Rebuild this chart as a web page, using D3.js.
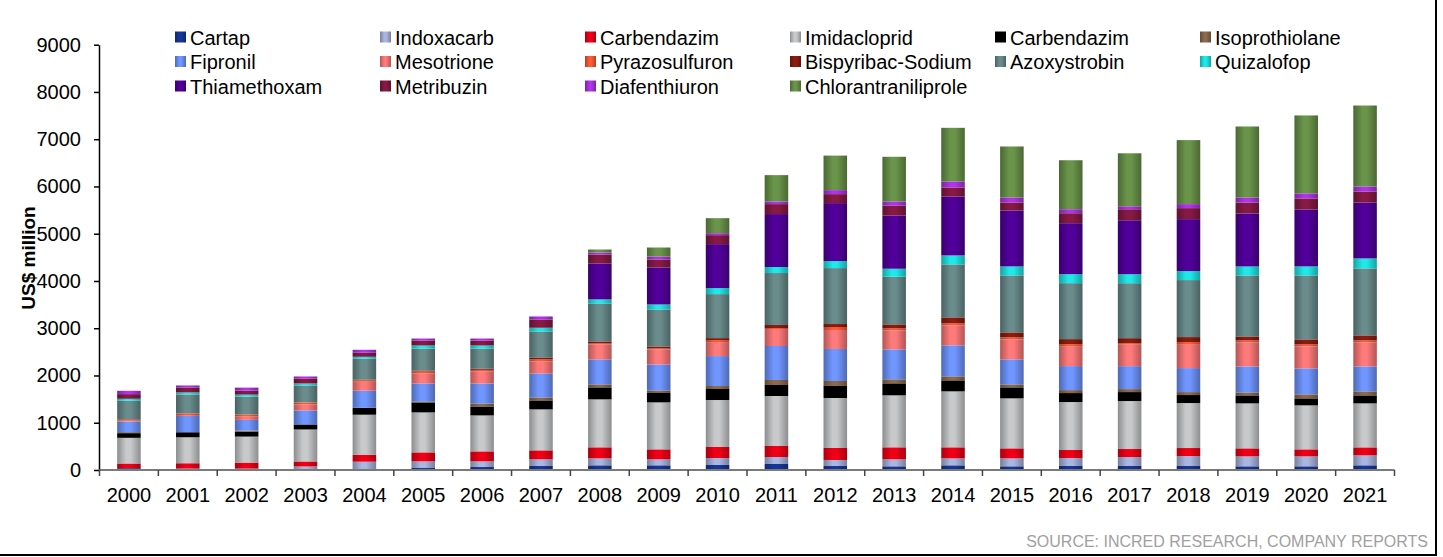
<!DOCTYPE html>
<html>
<head>
<meta charset="utf-8">
<script src="https://cdn.jsdelivr.net/npm/d3@7"></script>
<style>
body { margin: 0; background: #fff; }
text { font-family: Arial, "Liberation Sans", sans-serif; }
</style>
</head>
<body>
<svg id="chart"></svg>
<script>
// values, US$ million
var years = ["2000","2001","2002","2003","2004","2005","2006","2007","2008","2009","2010","2011","2012","2013","2014","2015","2016","2017","2018","2019","2020","2021"];
var yTicks = [0,1000,2000,3000,4000,5000,6000,7000,8000,9000];

var cartap             = [39,15,0,0,14,42,63,85,99,99,106,127,85,78,99,78,85,85,85,78,78,99];
var indoxacarb         = [0,15,30,75,162,141,120,141,148,127,148,148,127,148,148,169,169,190,211,211,211,211];
var carbendazimRed     = [99,113,127,106,148,190,211,190,233,211,233,233,254,254,233,211,169,169,169,169,148,169];
var imidacloprid       = [543,550,550,677,846,846,761,867,1015,994,994,1058,1058,1100,1184,1058,1015,1015,952,952,931,931];
var carbendazimBlack   = [99,106,106,106,148,211,190,190,254,211,233,233,254,254,233,233,190,190,169,169,148,169];
var isoprothiolane     = [21,0,21,0,0,21,63,63,63,42,63,106,106,85,85,63,63,63,63,63,85,85];
var fipronil           = [226,345,226,296,360,381,423,508,529,550,634,719,677,634,656,529,508,486,508,550,550,529];
var mesotrione         = [15,20,70,127,190,211,254,254,317,317,296,360,402,402,423,423,423,465,508,508,465,508];
var pyrazosulfuron     = [25,28,42,42,28,42,35,42,21,21,42,21,63,42,42,42,42,21,42,42,42,42];
var bispyribacSodium   = [10,5,0,0,14,21,21,42,42,42,42,63,63,85,127,106,106,106,106,85,106,106];
var azoxystrobin       = [388,402,381,360,444,465,430,550,804,783,931,1100,1184,1008,1121,1206,1184,1163,1206,1290,1354,1417];
var quizalofop         = [42,42,42,42,42,63,63,78,85,106,127,127,148,169,190,190,190,190,190,190,190,211];
var thiamethoxam       = [0,0,0,0,0,0,0,0,761,783,931,1121,1227,1128,1248,1184,1079,1142,1100,1121,1206,1184];
var metribuzin         = [99,106,85,106,85,106,106,176,190,169,190,211,190,211,190,169,211,233,233,233,233,233];
var diafenthiuron      = [70,42,63,42,63,42,42,63,42,63,42,56,85,85,127,106,85,63,85,106,106,106];
var chlorantraniliprole= [0,0,0,0,0,0,0,0,63,190,317,557,730,945,1135,1079,1036,1121,1354,1502,1650,1713];

var series = [
    {key:"cartap", name:"Cartap", color:"#16379a", values:cartap},
    {key:"indoxacarb", name:"Indoxacarb", color:"#aab6e0", values:indoxacarb},
    {key:"carbendazimRed", name:"Carbendazim", color:"#f00016", values:carbendazimRed},
    {key:"imidacloprid", name:"Imidacloprid", color:"#c8c9cb", values:imidacloprid},
    {key:"carbendazimBlack", name:"Carbendazim", color:"#000000", values:carbendazimBlack},
    {key:"isoprothiolane", name:"Isoprothiolane", color:"#8c6a4c", values:isoprothiolane},
    {key:"fipronil", name:"Fipronil", color:"#7096ff", values:fipronil},
    {key:"mesotrione", name:"Mesotrione", color:"#ff7a7a", values:mesotrione},
    {key:"pyrazosulfuron", name:"Pyrazosulfuron", color:"#ff5a34", values:pyrazosulfuron},
    {key:"bispyribacSodium", name:"Bispyribac-Sodium", color:"#8c1c10", values:bispyribacSodium},
    {key:"azoxystrobin", name:"Azoxystrobin", color:"#6a8c8c", values:azoxystrobin},
    {key:"quizalofop", name:"Quizalofop", color:"#1ee8e8", values:quizalofop},
    {key:"thiamethoxam", name:"Thiamethoxam", color:"#52009c", values:thiamethoxam},
    {key:"metribuzin", name:"Metribuzin", color:"#861a44", values:metribuzin},
    {key:"diafenthiuron", name:"Diafenthiuron", color:"#b034e8", values:diafenthiuron},
    {key:"chlorantraniliprole", name:"Chlorantraniliprole", color:"#6a944a", values:chlorantraniliprole}
];

var width = 1443, height = 557;
var svg = d3.select("#chart").attr("width", width).attr("height", height);

var rows = years.map(function(y, i) {
    var r = {year: y};
    series.forEach(function(s) { r[s.key] = s.values[i]; });
    return r;
});
var stacked = d3.stack().keys(series.map(function(s) { return s.key; }))(rows);

var x = d3.scaleBand().domain(years).range([99.5, 1394.5]).paddingInner(0.6).paddingOuter(0.3);
var y = d3.scaleLinear().domain([0, 9000]).range([470, 44.7]);

// shaded gradients like the original cylinders
var defs = svg.append("defs");
series.forEach(function(s) {
    var light = d3.color(s.color);
    var dark = d3.color(s.color).darker(1);
    var g = defs.append("linearGradient").attr("id", "g-" + s.key)
        .attr("x1", 0).attr("x2", 1).attr("y1", 0).attr("y2", 0);
    g.append("stop").attr("offset", "0%").attr("stop-color", dark);
    g.append("stop").attr("offset", "38%").attr("stop-color", light);
    g.append("stop").attr("offset", "58%").attr("stop-color", light);
    g.append("stop").attr("offset", "100%").attr("stop-color", dark);
});

// frame
svg.append("line").attr("x1", 0).attr("x2", 1437).attr("y1", 555).attr("y2", 555)
    .attr("stroke", "#000").attr("stroke-width", 2);
svg.append("line").attr("x1", 1436).attr("x2", 1436).attr("y1", 0).attr("y2", 556)
    .attr("stroke", "#000").attr("stroke-width", 2);

// bars
svg.append("g").selectAll("g")
    .data(stacked)
    .enter()
    .append("g")
    .attr("fill", function(d) { return "url(#g-" + d.key + ")"; })
    .selectAll("rect")
    .data(function(d) { return d; })
    .enter()
    .append("rect")
    .attr("x", function(d) { return x(d.data.year); })
    .attr("width", x.bandwidth())
    .attr("y", function(d) { return y(d[1]); })
    .attr("height", function(d) { return y(d[0]) - y(d[1]); });

// y axis
var yAxis = svg.append("g")
    .attr("transform", "translate(99,0)")
    .call(d3.axisLeft(y).tickValues(yTicks).tickFormat(d3.format("d")).tickSize(5).tickSizeOuter(0).tickPadding(13));
yAxis.select(".domain").attr("stroke", "#000").attr("stroke-width", 1.5);
yAxis.selectAll(".tick line").attr("stroke", "#000").attr("stroke-width", 1.5);
yAxis.selectAll("text").attr("font-size", 20).attr("fill", "#000")
    .attr("font-family", "Arial, 'Liberation Sans', sans-serif");

// x axis: labels under bars, ticks between categories
var xAxis = svg.append("g")
    .attr("transform", "translate(0,470)")
    .call(d3.axisBottom(x).tickSize(0).tickPadding(18));
xAxis.select(".domain").remove();
xAxis.selectAll("text").attr("font-size", 20).attr("fill", "#000")
    .attr("font-family", "Arial, 'Liberation Sans', sans-serif");

svg.append("line")
    .attr("x1", x.range()[0]).attr("x2", x.range()[1])
    .attr("y1", 470).attr("y2", 470)
    .attr("stroke", "#7a7a7a").attr("stroke-width", 2);
svg.append("g").selectAll("line")
    .data(d3.range(years.length + 1))
    .enter()
    .append("line")
    .attr("x1", function(i) { return x.range()[0] + i * x.step(); })
    .attr("x2", function(i) { return x.range()[0] + i * x.step(); })
    .attr("y1", 470).attr("y2", 476)
    .attr("stroke", "#444").attr("stroke-width", 1.5);

// y title
svg.append("text")
    .attr("transform", "translate(35,258) rotate(-90)")
    .attr("text-anchor", "middle")
    .attr("font-size", 19)
    .attr("font-weight", "bold")
    .text("US$ million");

// legend, 6 columns
var legend = svg.append("g").selectAll("g")
    .data(series)
    .enter()
    .append("g")
    .attr("transform", function(d, i) {
        return "translate(" + (175 + (i % 6) * 205) + "," + (37.5 + Math.floor(i / 6) * 24.5) + ")";
    });
legend.append("rect")
    .attr("x", 0).attr("y", -6).attr("width", 11).attr("height", 11)
    .attr("fill", function(d) { return "url(#g-" + d.key + ")"; });
legend.append("text")
    .attr("x", 15).attr("dy", "0.35em")
    .attr("font-size", 20)
    .text(function(d) { return d.name; });

// source
svg.append("text")
    .attr("x", 1428).attr("y", 547)
    .attr("text-anchor", "end")
    .attr("font-size", 16)
    .attr("fill", "#a0a0a0")
    .text("SOURCE: INCRED RESEARCH, COMPANY REPORTS");
</script>
</body>
</html>
